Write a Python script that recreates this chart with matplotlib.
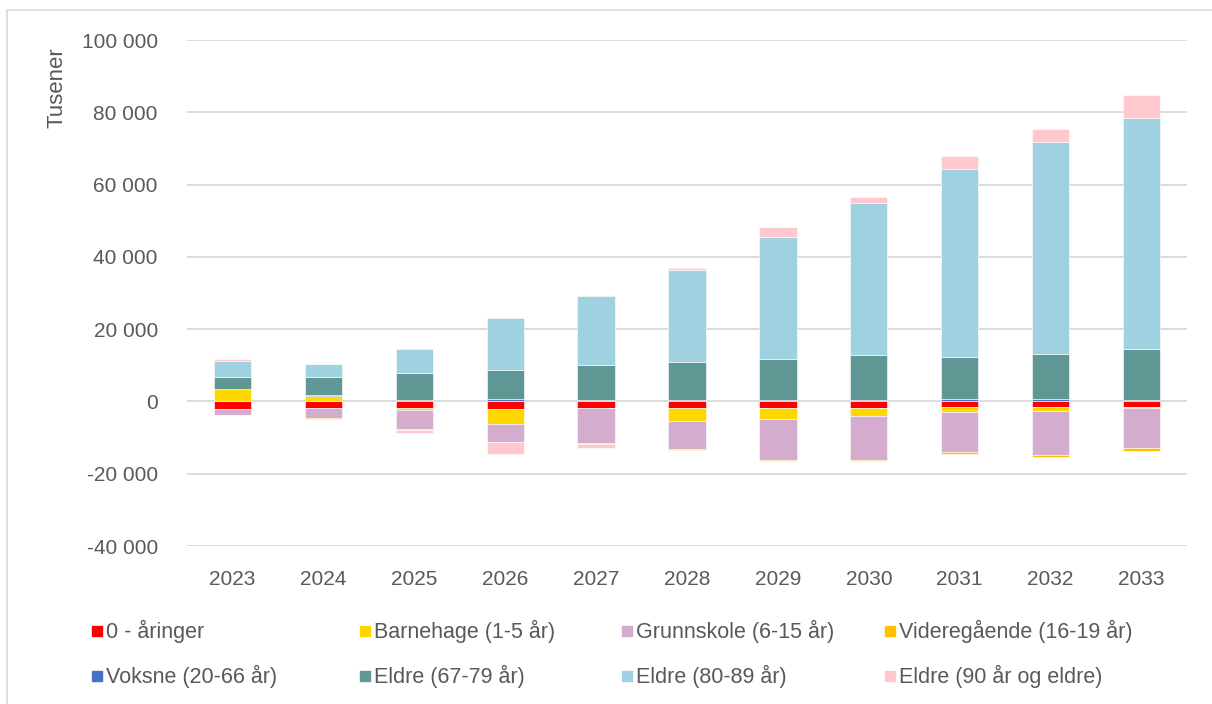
import numpy as np
import matplotlib
matplotlib.use("Agg")
from matplotlib import pyplot as plt
from matplotlib.patches import Rectangle
from matplotlib.ticker import FuncFormatter

# values in thousands (Tusener)
years = ["2023", "2024", "2025", "2026", "2027", "2028",
         "2029", "2030", "2031", "2032", "2033"]

null_aaringer = [-2100, -1850, -1850, -2030, -1750, -1750, -1750, -1750, -1660, -1660, -1480]
barnehage = [3400, 1570, -550, -4340, 0, -3790, -3140, -2400, -1290, -920, -280]
grunnskole = [-1570, -2680, -5170, -4800, -9700, -7570, -11360, -12000, -11080, -12280, -10990]
videregaende = [-100, -250, -370, 0, -370, -280, -200, -280, -460, -650, -920]
voksne = [150, 200, 400, 650, 460, 420, 370, 370, 650, 650, 370]
eldre_67_79 = [3230, 4900, 7390, 7940, 9500, 10400, 11260, 12370, 11630, 12460, 14030]
eldre_80_89 = [4340, 3790, 6830, 14400, 19200, 25500, 33900, 42100, 52070, 58700, 63900]
eldre_90 = [550, 0, -740, -3510, -1020, 500, 2680, 1760, 3510, 3510, 6460]

labels = ["0 - åringer", "Barnehage (1-5 år)", "Grunnskole (6-15 år)",
          "Videregående (16-19 år)", "Voksne (20-66 år)", "Eldre (67-79 år)",
          "Eldre (80-89 år)", "Eldre (90 år og eldre)"]
series = [null_aaringer, barnehage, grunnskole, videregaende,
          voksne, eldre_67_79, eldre_80_89, eldre_90]
colors = ["#FF0000", "#FFD700", "#D4ACCD", "#FFC000",
          "#4472C4", "#5F9795", "#A0D1E1", "#FFC7CE"]

W, H = 1212, 704
text_col = "#595959"
font = "Liberation Sans"

fig = plt.figure(figsize=(W / 100, H / 100), dpi=100)
ax = fig.add_axes([187 / W, 1 - 546 / H, 1000 / W, 506 / H])

x = np.arange(len(years))
pos_bottom = np.zeros(len(years))
neg_bottom = np.zeros(len(years))
for vals, col in zip(series, colors):
  v = np.array(vals, dtype=float)
  bottom = np.where(v >= 0, pos_bottom, neg_bottom)
  ax.bar(x, v, width=0.41, bottom=bottom, color=col,
         edgecolor="white", linewidth=0.4, zorder=3)
  pos_bottom += np.clip(v, 0, None)
  neg_bottom += np.clip(v, None, 0)

ax.set_xlim(-0.5, len(years) - 0.5)
ax.set_ylim(-40000, 100000)
ax.set_yticks(np.arange(-40000, 100001, 20000))
ax.yaxis.set_major_formatter(FuncFormatter(lambda v, p: f"{int(v):,}".replace(",", " ")))
ax.set_xticks(x)
ax.set_xticklabels(years)
ax.grid(axis="y", color="#D9D9D9", linewidth=1.3, zorder=0)
for s in ax.spines.values():
  s.set_visible(False)
ax.tick_params(length=0, labelsize=15, labelcolor=text_col)
ax.tick_params(axis="x", pad=17)
ax.tick_params(axis="y", pad=21)
for lab in ax.get_xticklabels() + ax.get_yticklabels():
  lab.set_fontfamily(font)

fig.text(57 / W, 1 - 88 / H, "Tusener", rotation=90, ha="center", va="center",
         fontsize=16, color=text_col, fontfamily=font)

# legend, 4 columns x 2 rows
col_x = [92, 360, 622, 885]
row_y = [631, 676]
for i, (lab, col) in enumerate(zip(labels, colors)):
  cx = col_x[i % 4]
  cy = row_y[i // 4]
  fig.add_artist(Rectangle((cx / W, 1 - (cy + 5) / H), 10 / W, 10 / H,
                           transform=fig.transFigure, color=col))
  fig.text((cx + 14) / W, 1 - cy / H, lab, ha="left", va="center",
           fontsize=15.5, color=text_col, fontfamily=font)

# chart area border
fig.add_artist(Rectangle((7 / W, -0.05), 1.2, 1 - 10 / H + 0.05,
                         transform=fig.transFigure, fill=False,
                         edgecolor="#D9D9D9", linewidth=1.2))

fig.savefig("out.png", dpi=100)
